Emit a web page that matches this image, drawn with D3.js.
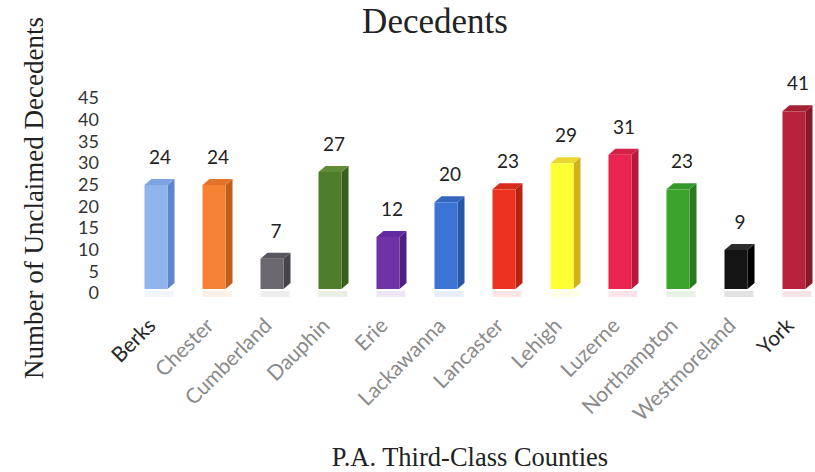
<!DOCTYPE html>
<html>
<head>
<meta charset="utf-8">
<script src="https://cdn.jsdelivr.net/npm/d3@7/dist/d3.min.js"></script>
<style>
  html, body { margin: 0; padding: 0; background: #fff; }
  svg { display: block; }
</style>
</head>
<body>
<script>
// ---- data ----
const categories = ["Berks", "Chester", "Cumberland", "Dauphin", "Erie", "Lackawanna",
  "Lancaster", "Lehigh", "Luzerne", "Northampton", "Westmoreland", "York"];
const values = [24, 24, 7, 27, 12, 20, 23, 29, 31, 23, 9, 41];
const yTicks = [0, 5, 10, 15, 20, 25, 30, 35, 40, 45];
const titleText = "Decedents";
const yAxisTitle = "Number of Unclaimed Decedents";
const xAxisTitle = "P.A. Third-Class Counties";

// ---- palette (front, side, top) ----
const frontColors = ["#8fb4ec", "#f58232", "#6c6870", "#4e7d2b", "#7032a4", "#3b74d4",
  "#ec3320", "#ffff33", "#ea2450", "#3ca42c", "#141414", "#b6233b"];
const sideColors = ["#5e84cc", "#c25e1a", "#48444e", "#38601c", "#501f80", "#2957a8",
  "#b52414", "#d2b21c", "#b51a3c", "#297c1e", "#000000", "#86182a"];
const topColors = ["#7ea3e2", "#e3722a", "#5a5660", "#5f8c36", "#6329a0", "#3467c0",
  "#d62c1c", "#e8d830", "#d52046", "#34982a", "#2c2c2c", "#a51f35"];
const labelColors = ["#262626", "#8a8a8a", "#8a8a8a", "#8a8a8a", "#8a8a8a", "#8a8a8a",
  "#8a8a8a", "#8a8a8a", "#8a8a8a", "#8a8a8a", "#8a8a8a", "#262626"];

const W = 815, H = 472;
const svg = d3.select("body").append("svg").attr("width", W).attr("height", H);

const x = d3.scaleBand().domain(categories).range([127, 823])
  .paddingInner(0.603).paddingOuter(0.3015);
const y = d3.scaleLinear().domain([0, 45]).range([289, 94]);

const dx = 7, dy = 6;
const bw = x.bandwidth();

const data = categories.map((c, i) => ({ c, v: values[i], i }));

// faint floor reflections
svg.append("g").selectAll("rect").data(data).join("rect")
  .attr("x", d => x(d.c))
  .attr("y", y(0) + 2)
  .attr("width", bw + dx - 1)
  .attr("height", 6)
  .attr("fill", d => frontColors[d.i])
  .attr("opacity", 0.12);

const bars = svg.append("g").selectAll("g").data(data).join("g");

// side face
bars.append("path")
  .attr("d", d => {
    const x1 = x(d.c) + bw, yt = y(d.v), yb = y(0);
    return `M${x1},${yt} L${x1 + dx},${yt - dy} L${x1 + dx},${yb - dy} L${x1},${yb} Z`;
  })
  .attr("fill", d => sideColors[d.i]);

// top face
bars.append("path")
  .attr("d", d => {
    const x0 = x(d.c), yt = y(d.v);
    return `M${x0},${yt} L${x0 + dx},${yt - dy} L${x0 + bw + dx},${yt - dy} L${x0 + bw},${yt} Z`;
  })
  .attr("fill", d => topColors[d.i]);

// front face
bars.append("rect")
  .attr("x", d => x(d.c))
  .attr("y", d => y(d.v))
  .attr("width", bw)
  .attr("height", d => y(0) - y(d.v))
  .attr("fill", d => frontColors[d.i]);

// value labels
svg.append("g").selectAll("text").data(data).join("text")
  .attr("x", d => x(d.c) + bw / 2 + 4)
  .attr("y", d => y(d.v) - 21)
  .attr("text-anchor", "middle")
  .attr("font-family", "Lato, sans-serif")
  .attr("font-size", 19)
  .attr("fill", "#222")
  .text(d => d.v);

// y axis tick labels (no line)
const yAxis = d3.axisLeft(y).tickValues(yTicks).tickSize(0).tickPadding(0);
const gy = svg.append("g").attr("transform", "translate(99,4)").call(yAxis);
gy.select(".domain").remove();
gy.selectAll("text")
  .attr("font-family", "Lato, sans-serif")
  .attr("font-size", 18)
  .attr("fill", "#333");

// x axis labels (rotated)
const xAxis = d3.axisBottom(x).tickSize(0).tickPadding(0);
const gx = svg.append("g").call(xAxis);
gx.select(".domain").remove();
gx.selectAll(".tick text")
  .attr("font-family", "Lato, sans-serif")
  .attr("font-size", 21)
  .attr("fill", (d, i) => labelColors[i])
  .attr("text-anchor", "end")
  .attr("dy", 0)
  .attr("transform", "translate(1,327) rotate(-45)");

// title
svg.append("text")
  .attr("x", 435).attr("y", 33)
  .attr("text-anchor", "middle")
  .attr("font-family", "Liberation Serif, Times New Roman, serif")
  .attr("font-size", 35)
  .attr("fill", "#222")
  .text(titleText);

// y axis title
svg.append("text")
  .attr("transform", "translate(43,198) rotate(-90)")
  .attr("text-anchor", "middle")
  .attr("font-family", "Liberation Serif, Times New Roman, serif")
  .attr("font-size", 27)
  .attr("fill", "#222")
  .text(yAxisTitle);

// x axis title
svg.append("text")
  .attr("x", 470).attr("y", 466)
  .attr("text-anchor", "middle")
  .attr("font-family", "Liberation Serif, Times New Roman, serif")
  .attr("font-size", 26.5)
  .attr("fill", "#222")
  .text(xAxisTitle);
</script>
</body>
</html>
